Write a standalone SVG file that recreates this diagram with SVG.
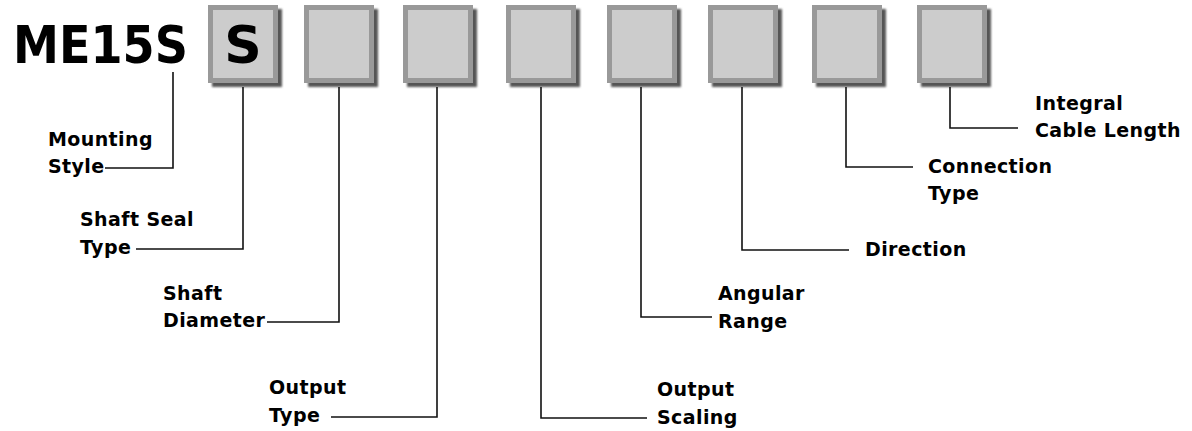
<svg xmlns="http://www.w3.org/2000/svg" width="1192" height="431" viewBox="0 0 1192 431">
<defs>
<filter id="blur" x="-10%" y="-10%" width="130%" height="130%"><feGaussianBlur stdDeviation="1.3"/></filter>
<g id="box">
<rect x="4" y="4" width="70" height="78" fill="#555" filter="url(#blur)"/>
<rect x="0" y="0" width="70" height="78" fill="#999"/>
<rect x="5" y="5" width="60" height="68" fill="#ccc"/>
</g>
</defs>
<style>
.lbl{font-family:"DejaVu Sans",Verdana,sans-serif;font-weight:bold;font-size:19px;letter-spacing:0.4px;fill:#000}
.big{font-family:"DejaVu Sans",Verdana,sans-serif;font-weight:bold;font-size:52px;fill:#000}
.ln{fill:none;stroke:#111;stroke-width:1.6}
</style>
<rect width="1192" height="431" fill="#fff"/>
<g id="title"><text class="big" x="13" y="63" textLength="175" lengthAdjust="spacingAndGlyphs">ME15S</text></g>
<g id="box1"><use href="#box" x="208" y="5"/><text class="big" x="243" y="63" text-anchor="middle">S</text></g>
<g id="box2"><use href="#box" x="304" y="5"/></g>
<g id="box3"><use href="#box" x="403" y="5"/></g>
<g id="box4"><use href="#box" x="506" y="5"/></g>
<g id="box5"><use href="#box" x="607" y="5"/></g>
<g id="box6"><use href="#box" x="708" y="5"/></g>
<g id="box7"><use href="#box" x="812" y="5"/></g>
<g id="box8"><use href="#box" x="917" y="5"/></g>
<g id="connectors">
<polyline class="ln" points="173,72 173,168 105,168"/>
<polyline class="ln" points="243,87 243,249 136,249"/>
<polyline class="ln" points="339,87 339,322 267,322"/>
<polyline class="ln" points="437,87 437,417 331,417"/>
<polyline class="ln" points="541,87 541,418 647,418"/>
<polyline class="ln" points="641,87 641,317 712,317"/>
<polyline class="ln" points="742,87 742,250 849,250"/>
<polyline class="ln" points="846,87 846,167 913,167"/>
<polyline class="ln" points="950,87 950,128 1018,128"/>
</g>
<g id="lbl-mounting"><text class="lbl" x="48" y="146">Mounting</text><text class="lbl" x="48" y="173">Style</text></g>
<g id="lbl-seal"><text class="lbl" x="80" y="226">Shaft Seal</text><text class="lbl" x="80" y="254">Type</text></g>
<g id="lbl-diam"><text class="lbl" x="163" y="300">Shaft</text><text class="lbl" x="163" y="327">Diameter</text></g>
<g id="lbl-otype"><text class="lbl" x="269" y="394">Output</text><text class="lbl" x="269" y="422">Type</text></g>
<g id="lbl-oscale"><text class="lbl" x="657" y="396">Output</text><text class="lbl" x="657" y="424">Scaling</text></g>
<g id="lbl-angular"><text class="lbl" x="718" y="300">Angular</text><text class="lbl" x="718" y="328">Range</text></g>
<g id="lbl-dir"><text class="lbl" x="865" y="256">Direction</text></g>
<g id="lbl-conn"><text class="lbl" x="928" y="173">Connection</text><text class="lbl" x="928" y="200">Type</text></g>
<g id="lbl-cable"><text class="lbl" x="1035" y="110">Integral</text><text class="lbl" x="1035" y="137">Cable Length</text></g>
</svg>
